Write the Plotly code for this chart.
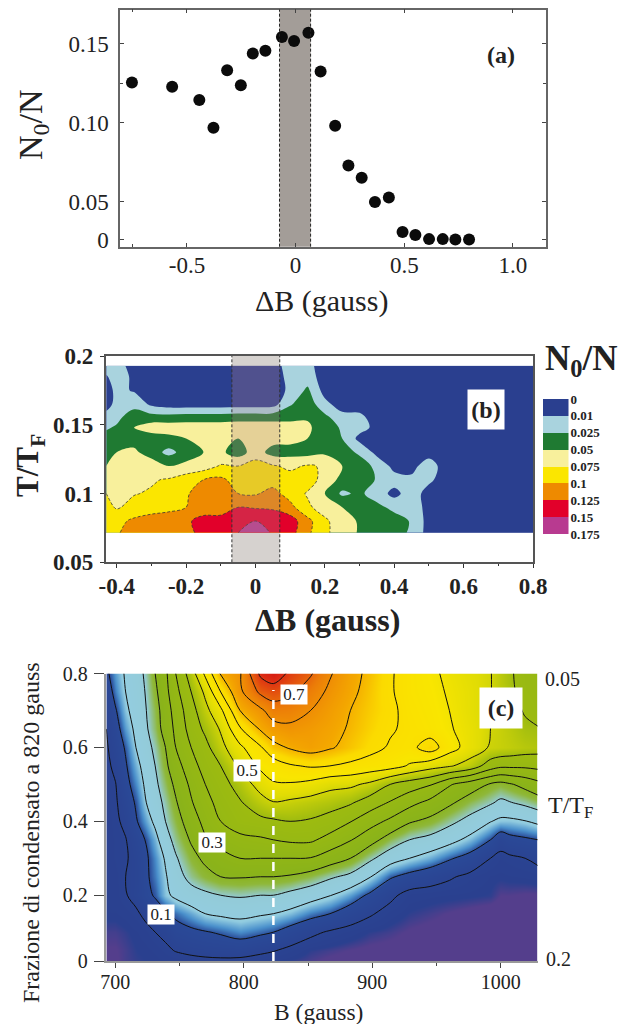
import plotly.graph_objects as go

W, H = 629, 1024
SERIF = "Liberation Serif"

# ---------- panel (a) ----------
a_dB = [-0.753, -0.568, -0.443, -0.378, -0.315, -0.252, -0.197, -0.139, -0.063, -0.007, 0.059, 0.115,
        0.182, 0.243, 0.304, 0.365, 0.429, 0.492, 0.551, 0.614, 0.677, 0.735, 0.798]
# axis reading: the tick labelled 0 sits at 0.026 on the printed scale
a_frac = [0.1255, 0.1229, 0.1145, 0.0969, 0.1333, 0.1238, 0.1439, 0.1456, 0.1544, 0.1519, 0.157, 0.1325,
          0.0982, 0.0730, 0.0652, 0.0498, 0.0527, 0.0308, 0.0289, 0.0263, 0.0263, 0.0261, 0.0261]
a_xticks = [-0.5, 0, 0.5, 1.0]
a_xlabels = ["-0.5", "0", "0.5", "1.0"]
a_xminor = [-0.75]
a_yticks = [0.026, 0.05, 0.10, 0.15]
a_ylabels = ["0", "0.05", "0.10", "0.15"]
a_yminor = [0.125]

# ---------- panel (b) ----------
b_dB = [-0.43, -0.40, -0.35, -0.30, -0.25, -0.20, -0.15, -0.10, -0.05, 0, 0.05, 0.10, 0.15, 0.20, 0.25,
        0.30, 0.35, 0.40, 0.45, 0.50, 0.55, 0.60, 0.80]
b_T = [0.0715, 0.08, 0.09, 0.10, 0.11, 0.12, 0.13, 0.14, 0.148, 0.155, 0.165, 0.175, 0.185, 0.193]
# value in legend-band units: 0..8 stands for the legend levels below
b_r0 = [4.7, 4.9, 5.4, 5.6, 5.8, 5.9, 6.1, 6.6, 7.0, 7.5, 6.9, 6.4, 5.2, 4.2, 3.5, 2.9, 2.6, 2.5, 1.8, .6, .5, .5, .5]
b_r1 = [4.6, 4.7, 5.2, 5.5, 5.6, 5.8, 6.4, 6.3, 6.8, 7.0, 6.9, 6.5, 5.3, 4.2, 3.4, 2.9, 2.6, 2.5, 1.9, .6, .5, .5, .5]
b_r2 = [4.3, 3.9, 4.3, 4.5, 4.7, 5.0, 5.4, 5.6, 6.0, 5.9, 5.8, 5.3, 4.2, 3.5, 3.0, 2.7, 2.3, 1.7, 1.8, .5, .5, .5, .5]
b_r3 = [4.0, 3.5, 3.95, 4.1, 4.3, 4.9, 5.4, 5.4, 5.0, 4.9, 5.3, 4.6, 3.9, 3.0, 1.8, 2.2, 1.5, .7, 1.5, .6, .5, .5, .5]
b_r4 = [3.2, 3.4, 4.0, 3.9, 4.1, 4.5, 5.0, 5.2, 4.6, 4.3, 4.6, 4.4, 4.5, 3.6, 2.7, 2.7, 1.9, 1.4, 1.2, 1.2, .5, .5, .5]
b_r5 = [3.0, 3.5, 3.8, 3.6, 3.0, 3.3, 3.5, 4.1, 4.0, 4.4, 4.1, 3.8, 4.1, 3.9, 3.0, 2.6, 1.7, .7, .7, 1.5, .5, .5, .5]
b_r6 = [2.6, 3.0, 3.2, 2.5, 1.7, 2.4, 3.0, 3.2, 2.5, 3.5, 2.6, 2.6, 2.6, 2.8, 2.5, 1.8, .7, .5, .5, .6, .5, .5, .5]
b_r7 = [2.3, 2.5, 2.6, 2.5, 2.7, 3.0, 3.4, 3.4, 3.0, 3.5, 3.4, 3.3, 3.0, 2.6, 2.0, .7, .5, .5, .5, .5, .5, .5, .5]
b_r8 = [1.9, 2.1, 3.0, 3.5, 3.5, 3.5, 3.5, 3.5, 3.5, 3.5, 3.5, 3.5, 3.2, 2.4, 1.9, 1.4, .7, .5, .5, .5, .5, .5, .5]
b_r9 = [1.5, 1.8, 2.5, 2.5, 2.5, 2.6, 2.6, 2.6, 2.7, 2.7, 2.7, 2.7, 2.9, 2.3, 1.4, 1.3, .5, .5, .5, .5, .5, .5, .5]
b_r10 = [.5, 1.4, 1.7, .8, .5, .5, .5, .5, .5, .5, .6, 1.9, 2.6, 1.3, .5, .5, .5, .5, .5, .5, .5, .5, .5]
b_r11 = [.5, 1.3, .9, .5, .5, .5, .5, .5, .5, .5, .5, 1.2, 2.2, .6, .5, .5, .5, .5, .5, .5, .5, .5, .5]
b_r12 = [.9, 1.5, .8, .5, .5, .5, .5, .5, .5, .5, .5, 1.3, 1.5, .5, .5, .5, .5, .5, .5, .5, .5, .5, .5]
b_r13 = [1.5, 1.5, .5, .5, .5, .5, .5, .5, .5, .5, .5, 1.5, 1.3, .5, .5, .5, .5, .5, .5, .5, .5, .5, .5]
b_levels = ["0", "0.01", "0.025", "0.05", "0.075", "0.1", "0.125", "0.15", "0.175"]
b_colors = ["#2a3f8f", "#a9d3de", "#1f7a32", "#f8f09c", "#fbe600", "#ee8a00", "#e2002a", "#b83a90"]
b_legend_z = [0.5, 1.5, 2.5, 3.5, 4.5, 5.5, 6.5, 7.5]
b_xticks = [-0.4, -0.2, 0, 0.2, 0.4, 0.6, 0.8]
b_xlabels = ["-0.4", "-0.2", "0", "0.2", "0.4", "0.6", "0.8"]
b_xminor = [-0.3, -0.1, 0.1, 0.3, 0.5, 0.7]
b_yticks = [0.05, 0.1, 0.15, 0.2]
b_ylabels = ["0.05", "0.1", "0.15", "0.2"]

# ---------- panel (c) ----------
c_B = [693, 700, 708, 716, 723, 731, 739, 747, 759, 770, 782, 797, 813, 823, 836, 852, 867, 883, 898, 914,
       929, 945, 960, 976, 992, 1000, 1007, 1019, 1029]
c_y = [0.022, 0.05, 0.10, 0.15, 0.20, 0.25, 0.30, 0.35, 0.40, 0.45, 0.50, 0.55, 0.60, 0.65, 0.70, 0.75, 0.80]
c_r0 = [.012, .014, .02, .024, .026, .028, .03, .032, .035, .04, .042, .04, .035, .03, .024, .018, .012, .01, .008, .006, .005, .004, .003, .002, .002, .002, .002, .002, .002]
c_r1 = [.015, .015, .02, .026, .028, .032, .042, .052, .062, .066, .068, .07, .058, .052, .04, .025, .02, .015, .012, .01, .008, .006, .004, .003, .003, .003, .003, .003, .003]
c_r2 = [.02, .02, .024, .03, .035, .05, .06, .08, .09, .097, .105, .118, .108, .10, .08, .06, .045, .035, .025, .02, .014, .01, .008, .005, .003, .003, .003, .003, .003]
c_r3 = [.03, .03, .034, .042, .06, .075, .09, .11, .13, .15, .158, .163, .155, .15, .138, .115, .10, .075, .055, .035, .025, .02, .015, .01, .006, .005, .005, .005, .005]
c_r4 = [.03, .034, .047, .065, .085, .105, .14, .16, .18, .19, .20, .205, .20, .20, .187, .17, .152, .125, .092, .06, .035, .032, .03, .028, .025, .016, .016, .014, .014]
c_r5 = [.03, .035, .05, .062, .09, .115, .145, .18, .215, .235, .25, .253, .25, .25, .245, .23, .207, .188, .153, .105, .085, .07, .055, .04, .03, .028, .03, .032, .035]
c_r6 = [.03, .04, .045, .065, .09, .12, .155, .195, .235, .26, .28, .30, .30, .30, .30, .298, .275, .25, .21, .172, .15, .13, .105, .083, .05, .038, .042, .05, .06]
c_r7 = [.032, .04, .048, .075, .10, .135, .18, .215, .255, .295, .32, .335, .343, .35, .358, .358, .333, .303, .27, .228, .20, .186, .166, .137, .10, .07, .085, .093, .10]
c_r8 = [.033, .042, .06, .095, .125, .16, .20, .23, .275, .315, .35, .38, .388, .393, .40, .395, .38, .352, .32, .29, .255, .238, .212, .185, .152, .14, .14, .148, .16]
c_r9 = [.035, .045, .07, .105, .145, .18, .21, .245, .295, .335, .365, .395, .43, .447, .44, .43, .42, .405, .375, .345, .315, .285, .258, .227, .205, .19, .197, .21, .225]
c_r10 = [.038, .048, .085, .12, .155, .19, .225, .26, .31, .35, .38, .42, .47, .495, .495, .485, .465, .46, .44, .40, .375, .355, .305, .275, .245, .235, .245, .265, .285]
c_r11 = [.04, .06, .095, .135, .165, .20, .24, .28, .33, .37, .40, .46, .51, .525, .545, .555, .55, .54, .53, .52, .495, .47, .455, .43, .375, .36, .36, .36, .365]
c_r12 = [.045, .07, .105, .15, .18, .21, .25, .30, .35, .385, .435, .49, .545, .585, .605, .62, .605, .585, .565, .545, .535, .575, .52, .48, .445, .44, .435, .425, .42]
c_r13 = [.05, .08, .125, .16, .19, .225, .27, .31, .37, .41, .455, .545, .605, .63, .64, .63, .615, .595, .575, .555, .54, .525, .505, .48, .45, .44, .43, .41, .405]
c_r14 = [.06, .095, .14, .17, .195, .23, .275, .32, .38, .435, .49, .60, .64, .675, .67, .65, .625, .60, .58, .56, .535, .52, .50, .475, .45, .435, .42, .395, .37]
c_r15 = [.07, .115, .15, .175, .20, .24, .285, .335, .40, .46, .55, .64, .71, .725, .71, .675, .64, .61, .585, .555, .53, .515, .495, .475, .452, .43, .415, .375, .36]
c_r16 = [.09, .125, .155, .18, .205, .25, .29, .35, .425, .51, .605, .645, .76, .78, .74, .705, .655, .615, .59, .555, .53, .51, .49, .47, .452, .43, .41, .37, .35]
c_xticks = [700, 800, 900, 1000]
c_xminor = [750, 850, 950]
c_yticks = [0.022, 0.2, 0.4, 0.6, 0.8]
c_ylabels = ["0", "0.2", "0.4", "0.6", "0.8"]


def X(p): return p / W
def Y(p): return 1 - p / H


fig = go.Figure()

# (a)
fig.add_trace(go.Scatter(x=a_dB, y=a_frac, mode="markers", xaxis="x", yaxis="y",
                         marker=dict(color="#0b0b0b", size=12), showlegend=False))

# (b)
b_grid = [b_r0, b_r1, b_r2, b_r3, b_r4, b_r5, b_r6, b_r7, b_r8, b_r9, b_r10, b_r11, b_r12, b_r13]
b_scale = []
for i, c in enumerate(b_colors):
    b_scale += [[i / 8, c], [(i + 1) / 8, c]]
fig.add_trace(go.Contour(
    x=b_dB, y=b_T, z=b_grid, xaxis="x2", yaxis="y2", zmin=0, zmax=8, colorscale=b_scale, showscale=False,
    autocontour=False, contours=dict(start=0, end=8, size=1, coloring="fill"), line=dict(width=0),
))
fig.add_trace(go.Contour(
    x=b_dB, y=b_T, z=b_grid, xaxis="x2", yaxis="y2", showscale=False, zmin=0, zmax=8, hoverinfo="skip",
    autocontour=False, contours=dict(start=4, end=7, size=1, coloring="none"),
    line=dict(color="#333", width=0.8, dash="3px,2px"),
))
# legend strip of (b)
fig.add_trace(go.Heatmap(
    x=[0], y=b_legend_z, z=[[v] for v in b_legend_z], xaxis="x4", yaxis="y4",
    zmin=0, zmax=8, colorscale=b_scale, showscale=False, hoverinfo="skip",
))

# (c)
c_grid = [c_r0, c_r1, c_r2, c_r3, c_r4, c_r5, c_r6, c_r7, c_r8, c_r9, c_r10, c_r11, c_r12, c_r13, c_r14, c_r15, c_r16]
c_scale = [[0, "#543e8c"], [0.02, "#543e8c"], [0.033, "#2a408f"], [0.125, "#2a4a98"], [0.15, "#4a90cc"],
           [0.18, "#93cde0"], [0.25, "#93cbd8"], [0.29, "#8fb83a"], [0.32, "#8ab31a"], [0.50, "#9dbb10"],
           [0.58, "#e0dc05"], [0.64, "#f9e600"], [0.71, "#fbdb00"], [0.76, "#f4a800"], [0.85, "#ec7c08"],
           [0.95, "#dc2a14"], [1, "#d01010"]]
fig.add_trace(go.Contour(
    x=c_B, y=c_y, z=c_grid, xaxis="x3", yaxis="y3", zmin=0, zmax=0.8, colorscale=c_scale, showscale=False,
    autocontour=False, contours=dict(start=0.05, end=0.75, size=0.05, coloring="heatmap"),
    line=dict(color="#111", width=1),
))

fig.update_layout(
    width=W, height=H, margin=dict(l=0, r=0, t=0, b=0, autoexpand=False), paper_bgcolor="white", plot_bgcolor="white",
    font=dict(family=SERIF, color="#222"), showlegend=False,
    xaxis=dict(domain=[X(120.2), X(546)], range=[-0.807, 1.152], anchor="y", mirror="ticks", showgrid=False,
               zeroline=False, linecolor="#666", linewidth=1.5, ticks="inside", ticklen=4, tickcolor="#444",
               tickmode="array", tickvals=a_xticks, ticktext=a_xlabels, ticklabelstandoff=-3,
               minor=dict(tickvals=a_xminor, ticks="inside", ticklen=3, tickcolor="#444"),
               tickfont=dict(size=23, family=SERIF, color="#222")),
    yaxis=dict(domain=[Y(246.7), Y(9.5)], range=[0.0215, 0.1718], anchor="x", mirror="ticks", showgrid=False,
               zeroline=False, linecolor="#666", linewidth=1.5, ticks="inside", ticklen=4, tickcolor="#444",
               tickmode="array", tickvals=a_yticks, ticktext=a_ylabels, ticklabelstandoff=5,
               minor=dict(tickvals=a_yminor, ticks="inside", ticklen=3, tickcolor="#444"),
               tickfont=dict(size=23, family=SERIF, color="#222")),
    xaxis2=dict(domain=[X(105.6), X(533)], range=[-0.432, 0.8], anchor="y2", mirror=True, showgrid=False,
                zeroline=False, linecolor="#555", linewidth=1.5, ticks="outside", ticklen=4, tickcolor="#333",
                tickmode="array", tickvals=b_xticks, ticktext=b_xlabels, ticklabelstandoff=-2,
                minor=dict(tickvals=b_xminor, ticks="outside", ticklen=2, tickcolor="#333"),
                tickfont=dict(size=23, family=SERIF, color="#222", weight="bold")),
    yaxis2=dict(domain=[Y(562.3), Y(356)], range=[0.05, 0.2], anchor="x2", mirror=True, showgrid=False,
                zeroline=False, linecolor="#555", linewidth=1.5, ticks="outside", ticklen=4, tickcolor="#333",
                tickmode="array", tickvals=b_yticks, ticktext=b_ylabels, ticklabelstandoff=2,
                tickfont=dict(size=23, family=SERIF, color="#222", weight="bold")),
    xaxis3=dict(domain=[X(105.6), X(537.5)], range=[692.4, 1028.6], anchor="y3", showgrid=False, zeroline=False,
                showline=True, linecolor="#999", linewidth=1.5, ticks="outside", ticklen=5, tickcolor="#444",
                tickmode="array", tickvals=c_xticks, ticklabelstandoff=-3,
                minor=dict(tickvals=c_xminor, ticks="outside", ticklen=3, tickcolor="#444"),
                tickfont=dict(size=20, family=SERIF, color="#222")),
    yaxis3=dict(domain=[Y(961), Y(673.5)], range=[0.022, 0.8], anchor="x3", showgrid=False, zeroline=False,
                showline=True, linecolor="#999", linewidth=1.5, ticks="outside", ticklen=10, tickcolor="#444",
                tickmode="array", tickvals=c_yticks, ticktext=c_ylabels, ticklabelstandoff=2,
                tickfont=dict(size=20, family=SERIF, color="#222")),
    xaxis4=dict(domain=[X(543), X(568.5)], anchor="y4", visible=False),
    yaxis4=dict(domain=[Y(534), Y(399)], range=[8, 0], anchor="x4", side="right", showgrid=False, zeroline=False,
                showline=False, ticks="", tickmode="array", tickvals=list(range(9)), ticktext=b_levels,
                ticklabelstandoff=1, tickfont=dict(size=13, family=SERIF, color="#222", weight="bold")),
)

fig.add_shape(type="rect", xref="x", yref="paper", x0=-0.074, x1=0.069, y0=Y(246.7), y1=Y(9.5),
              fillcolor="#a39d98", layer="below", line=dict(width=0))
for xv in (-0.074, 0.069):
    fig.add_shape(type="line", xref="x", yref="paper", x0=xv, x1=xv, y0=Y(246.7), y1=Y(9.5),
                  line=dict(color="#222", width=1, dash="3px,2px"))
fig.add_shape(type="rect", xref="x2", yref="y2", x0=-0.068, x1=0.07, y0=0.05, y1=0.2,
              fillcolor="#d6d2cf", layer="below", line=dict(width=0))
fig.add_shape(type="rect", xref="x2", yref="y2", x0=-0.068, x1=0.07, y0=0.0715, y1=0.193,
              fillcolor="rgba(180,130,140,0.28)", line=dict(width=0))
for xv in (-0.068, 0.07):
    fig.add_shape(type="line", xref="x2", yref="y2", x0=xv, x1=xv, y0=0.05, y1=0.2,
                  line=dict(color="#333", width=1, dash="3px,2px"))
fig.add_shape(type="line", xref="x3", yref="paper", x0=823, x1=823, y0=Y(961), y1=Y(690),
              line=dict(color="white", width=2.5, dash="dash"))


def note(text, px, py, size, bold=False, angle=0, box=None, color="#222"):
    kw = {}
    if box:
        kw = dict(bgcolor="white", width=box[0], height=box[1], borderpad=0, valign="middle", align="center")
    fig.add_annotation(xref="paper", yref="paper", x=X(px), y=Y(py), text=text, showarrow=False,
                       xanchor="center", yanchor="middle", textangle=angle,
                       font=dict(family=SERIF, size=size, color=color, weight="bold" if bold else "normal"), **kw)


note("(a)", 501, 55, 24, bold=True)
note("ΔB (gauss)", 321, 301, 30)
note("N<sub>0</sub>/N", 33, 125, 34, angle=-90)

note("(b)", 486, 409.5, 24, bold=True, box=(36, 39))
note("ΔB (gauss)", 327, 620, 32, bold=True)
note("T/T<sub>F</sub>", 30, 466, 31, bold=True, angle=-90)
note("N<sub>0</sub>/N", 581, 360, 35, bold=True)

note("0.1", 161, 914, 17, box=(26, 19))
note("0.3", 212, 842, 17, box=(26, 19))
note("0.5", 247, 770, 17, box=(26, 21))
note("0.7", 294, 694, 17, box=(26, 19))
note("(c)", 501, 708, 24, bold=True, box=(42, 40))
note("B (gauss)", 318.5, 1012, 23.5)
note("Frazione di condensato a 820 gauss", 31, 833, 24, angle=-90)
note("0.05", 562, 679, 20)
note("0.2", 558, 959, 20)
note("T/T<sub>F</sub>", 570, 807, 24)

fig.write_html("out.html", config=dict(displayModeBar=False),
               post_script="document.body.style.margin='0';document.body.style.overflow='hidden';")
